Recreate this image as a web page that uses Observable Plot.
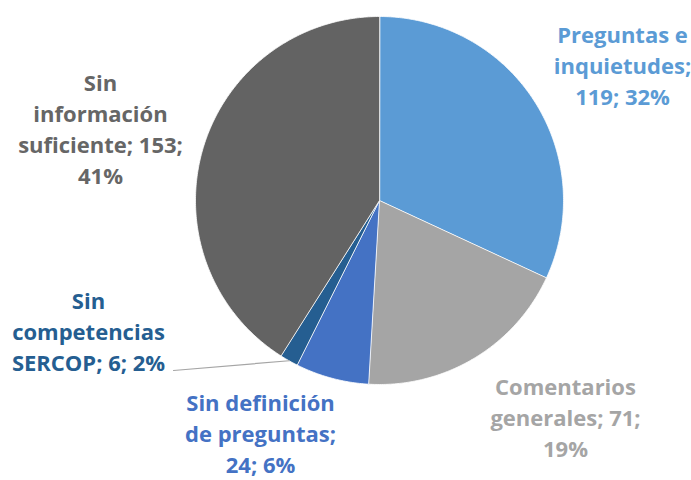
<!DOCTYPE html>
<html>
<head>
<meta charset="utf-8">
<script src="https://cdn.jsdelivr.net/npm/d3@7"></script>
<script src="https://cdn.jsdelivr.net/npm/@observablehq/plot@0.6"></script>
<style>
  html, body { margin: 0; padding: 0; background: #fff; }
</style>
</head>
<body>
<div id="chart"></div>
<script>
// ---- data ----
const categories = ["Preguntas e inquietudes", "Comentarios generales", "Sin definición de preguntas", "Sin competencias SERCOP", "Sin información suficiente"];
const values = [119, 71, 24, 6, 153];
const percents = ["32%", "19%", "6%", "2%", "41%"];
const labelLines = [
  ["Preguntas e", "inquietudes;", "119; 32%"],
  ["Comentarios", "generales; 71;", "19%"],
  ["Sin definición", "de preguntas;", "24; 6%"],
  ["Sin", "competencias", "SERCOP; 6; 2%"],
  ["Sin", "información", "suficiente; 153;", "41%"]
];

// ---- layout / style (not data) ----
const colors = ["#5B9BD5", "#A5A5A5", "#4472C4", "#255E91", "#636363"];
const textColors = ["#5B9BD5", "#A5A5A5", "#4472C4", "#255E91", "#666666"];
const W = 691, H = 480;
const cx = 379, cy = 200, R = 184;
const labelPos = [[622, 64], [565, 416], [260, 432], [88, 330], [100, 127]];
const leaderEnd = [173, 370];
const fontSize = 22;

const pie = d3.pie().sort(null).value(d => d.value);
const rows = categories.map((c, i) => ({category: c, value: values[i], i}));
const arcs = pie(rows);

// polygon vertices for each slice (geometry from the pie angles)
const poly = [];
arcs.forEach(a => {
  const c = a.data.category;
  poly.push({category: c, x: cx, y: cy});
  const n = Math.max(4, Math.ceil((a.endAngle - a.startAngle) / 0.01));
  for (let k = 0; k <= n; k++) {
    const t = a.startAngle + (a.endAngle - a.startAngle) * k / n;
    poly.push({category: c, x: cx + R * Math.sin(t), y: cy - R * Math.cos(t)});
  }
});

const labels = arcs.map((a, i) => ({
  category: a.data.category,
  text: labelLines[i].join("\n"),
  x: labelPos[i][0], y: labelPos[i][1]
}));

// leader line for small slice
const sc = arcs[3];
const mid = (sc.startAngle + sc.endAngle) / 2;
const leader = [
  {x: leaderEnd[0], y: leaderEnd[1]},
  {x: cx + R * Math.sin(mid), y: cy - R * Math.cos(mid)}
];

const chart = Plot.plot({
  width: W, height: H,
  margin: 0,
  x: {domain: [0, W], range: [0, W], axis: null},
  y: {domain: [0, H], range: [0, H], axis: null},
  color: {domain: categories, range: colors},
  style: {background: "#fff", fontFamily: "'Open Sans', Lato, sans-serif"},
  marks: [
    Plot.line(poly, {x: "x", y: "y", z: "category", fill: "category", stroke: "#ffffff", strokeWidth: 0.8, curve: "linear-closed"}),
    Plot.line(leader, {x: "x", y: "y", stroke: "#A5A5A5", strokeWidth: 1.2}),
    Plot.text(labels, {x: "x", y: "y", text: "text", fill: (d, i) => textColors[i], fontSize, fontWeight: "bold", textAnchor: "middle", lineAnchor: "middle", lineHeight: 31 / fontSize})
  ]
});
document.getElementById("chart").appendChild(chart);
</script>
</body>
</html>
